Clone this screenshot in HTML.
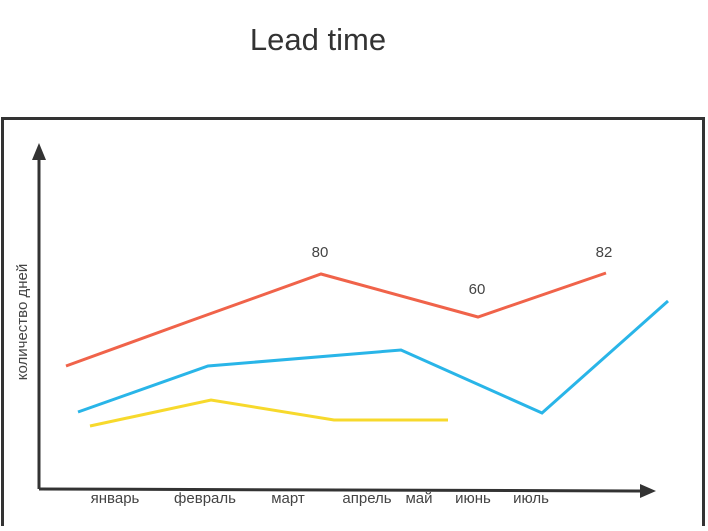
<!DOCTYPE html>
<html><head><meta charset="utf-8"><style>
body{margin:0;width:708px;height:526px;background:#fff;overflow:hidden}
</style></head><body>
<svg width="708" height="526" xmlns="http://www.w3.org/2000/svg" font-family="Liberation Sans, DejaVu Sans, sans-serif">
<text x="318" y="50" font-size="31" text-anchor="middle" fill="#333">Lead time</text>
<rect x="2.5" y="118.5" width="701" height="410" fill="none" stroke="#333" stroke-width="3"/>
<line x1="39" y1="489" x2="39" y2="152" stroke="#333" stroke-width="3"/>
<polygon points="39,143 32,160 46,160" fill="#333"/>
<line x1="39" y1="489" x2="648" y2="491" stroke="#333" stroke-width="3"/>
<polygon points="656,491 640,484 640,498" fill="#333"/>
<text transform="translate(27,322) rotate(-90)" font-size="15" text-anchor="middle" fill="#444">количество дней</text>
<polyline points="66,366 190,321 321,274 478,317 606,273" fill="none" stroke="#f0634a" stroke-width="3"/>
<polyline points="78,412 208,366 401,350 542,413 668,301" fill="none" stroke="#29b5e8" stroke-width="3"/>
<polyline points="90,426 211,400 334,420 448,420" fill="none" stroke="#f7d92c" stroke-width="3"/>
<g font-size="15" fill="#444" text-anchor="middle">
<text x="320" y="257">80</text><text x="477" y="294">60</text><text x="604" y="257">82</text>
<text x="115" y="503">январь</text><text x="205" y="503">февраль</text><text x="288" y="503">март</text>
<text x="367" y="503">апрель</text><text x="419" y="503">май</text><text x="473" y="503">июнь</text><text x="531" y="503">июль</text>
</g>
</svg>
</body></html>
